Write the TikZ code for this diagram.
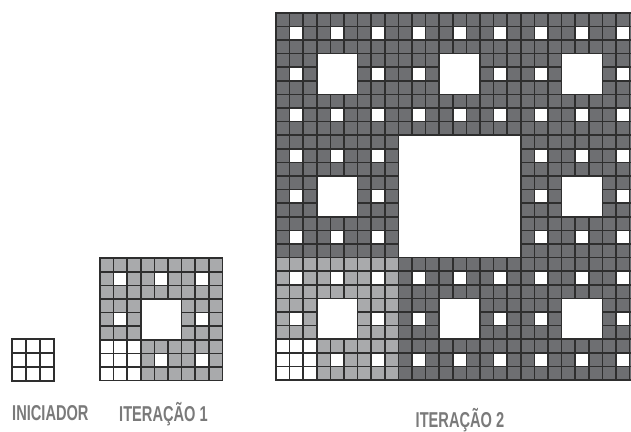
\documentclass[tikz,border=0pt]{standalone}
\usepackage{fontspec}
\newfontfamily\labfont[FakeStretch=0.68]{Liberation Sans Bold}
\definecolor{darkcell}{HTML}{6E6F72}
\definecolor{lightcell}{HTML}{A9AAAC}
\definecolor{gridline}{HTML}{2E2E2E}
\definecolor{labgray}{HTML}{7A7A7A}
\tikzset{
  cellbox/.style={draw=gridline, line width=1.6pt},
  lab/.style={anchor=base west, inner sep=0pt, text=labgray, font=\labfont\fontsize{21.5}{21.5}\selectfont}
}
\begin{document}
\begin{tikzpicture}[x=1pt,y=-1pt]
\useasboundingbox[fill=white] (0,0) rectangle (631,431);
% Initiator
\foreach \i in {0,1,2}{\foreach \j in {0,1,2}{
  \draw[cellbox, fill=white] (12+14*\i,381-14*\j) rectangle ++(14,-14);
}}
% Iteration 1
\foreach \i in {0,...,8}{\foreach \j in {0,...,8}{
  \pgfmathtruncatemacro\hole{(mod(\i,3)==1 && mod(\j,3)==1) || (div(\i,3)==1 && div(\j,3)==1)}
  \pgfmathtruncatemacro\white{(\i<3 && \j<3)}
  \ifnum\white=1
    \draw[cellbox, fill=white] (100+13.6*\i,380.5-13.6*\j) rectangle ++(13.6,-13.6);
  \else\ifnum\hole=0
    \draw[cellbox, fill=lightcell] (100+13.6*\i,380.5-13.6*\j) rectangle ++(13.6,-13.6);
  \fi\fi
}}
% Iteration 2
\begin{scope}
\clip (0,0) rectangle (631,431);
\foreach \i in {0,...,26}{\foreach \j in {0,...,26}{
  \pgfmathtruncatemacro\hole{(mod(\i,3)==1 && mod(\j,3)==1) || (mod(div(\i,3),3)==1 && mod(div(\j,3),3)==1) || (div(\i,9)==1 && div(\j,9)==1)}
  \pgfmathtruncatemacro\white{(\i<3 && \j<3)}
  \pgfmathtruncatemacro\light{(\i<9 && \j<9)}
  \ifnum\white=1
    \draw[cellbox, fill=white] (276+13.6*\i,380-13.6*\j) rectangle ++(13.6,-13.6);
  \else\ifnum\hole=0
    \ifnum\light=1
      \draw[cellbox, fill=lightcell] (276+13.6*\i,380-13.6*\j) rectangle ++(13.6,-13.6);
    \else
      \draw[cellbox, fill=darkcell] (276+13.6*\i,380-13.6*\j) rectangle ++(13.6,-13.6);
    \fi
  \fi\fi
}}
\end{scope}
% Labels
\node[lab] (l0) at (12,420.5) {INICIADOR};
\node[lab] (l1) at (119,421) {ITERAÇÃO 1};
\node[lab] (l2) at (415.5,427) {ITERAÇÃO 2};
\end{tikzpicture}
\end{document}
